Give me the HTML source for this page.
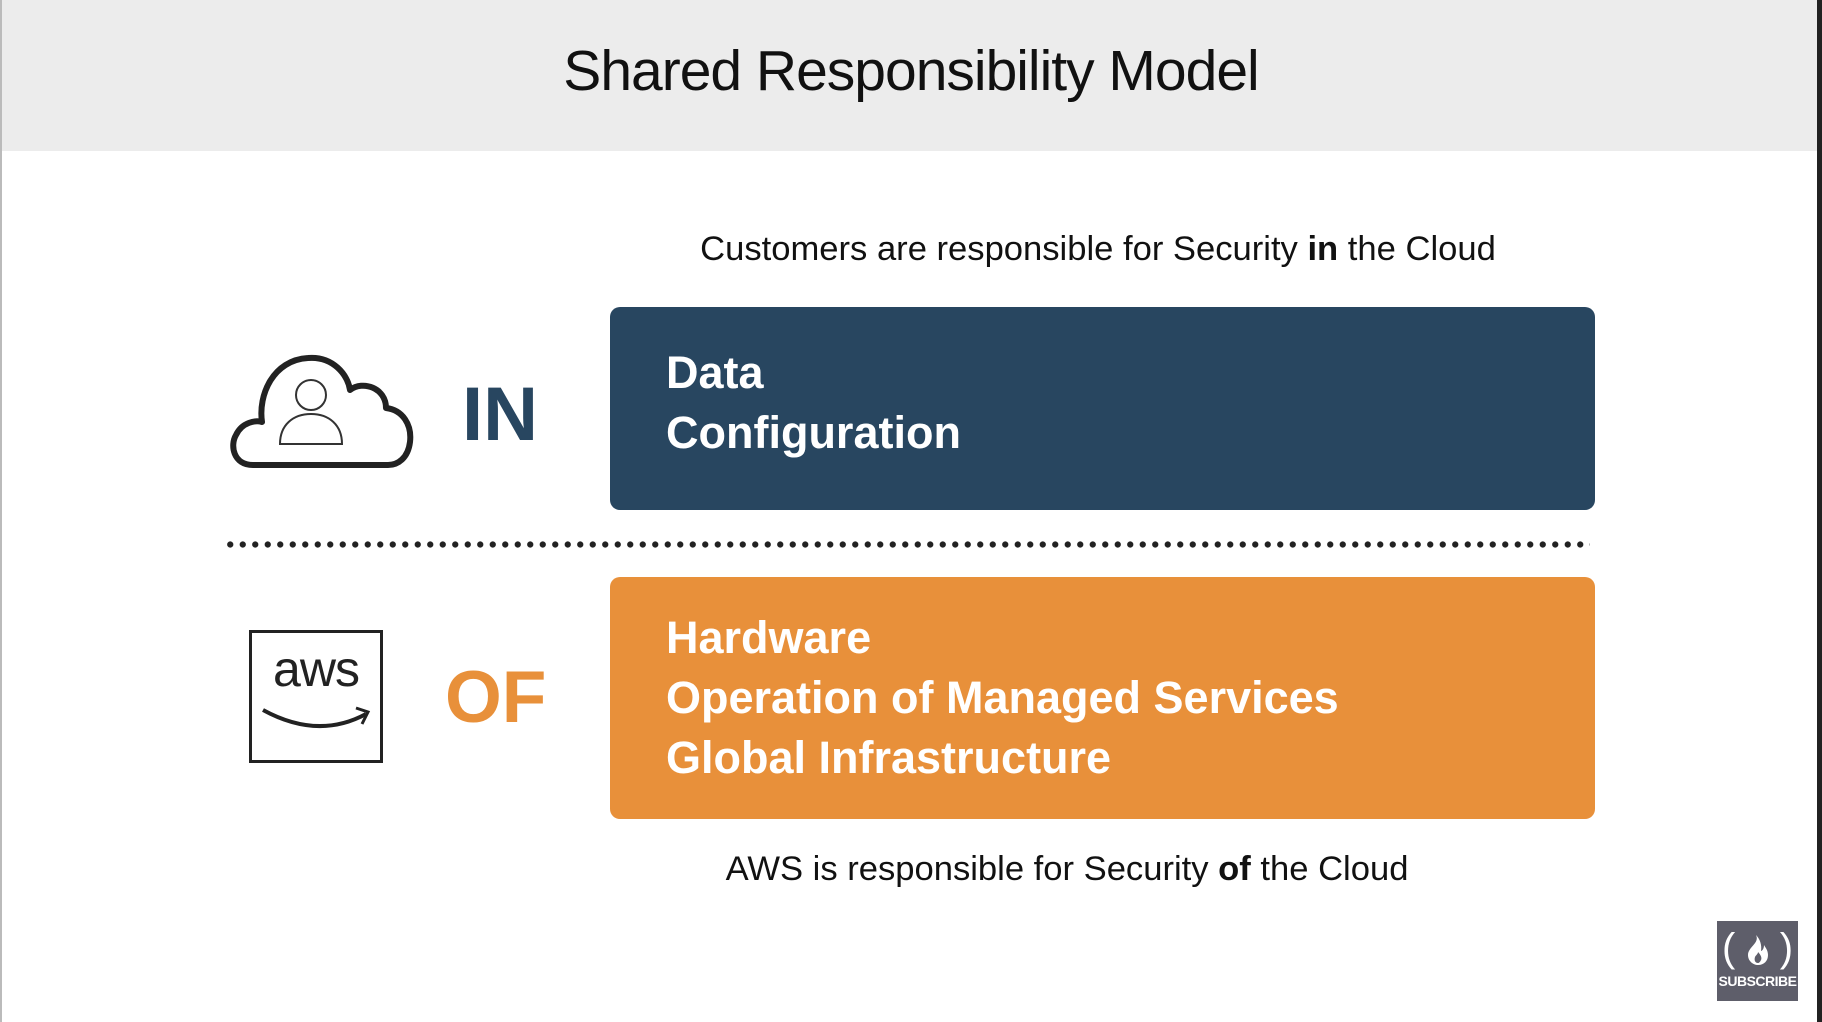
<!DOCTYPE html>
<html><head><meta charset="utf-8"><style>
body{margin:0;width:1822px;height:1022px;background:#fff;position:relative;overflow:hidden;font-family:"Liberation Sans",sans-serif}
.a{position:absolute}
.hdr{left:0;top:0;width:1822px;height:151px;background:#ececec}
.title{left:0;width:1822px;top:38px;text-align:center;font-size:57px;color:#111;font-family:"Comic Sans MS","Liberation Sans Narrow","Liberation Sans",sans-serif;letter-spacing:-1px}
.cap{font-size:34.6px;color:#111;text-align:center;white-space:nowrap}
.box{left:610px;width:985px;border-radius:10px}
.bt{color:#fff;font-weight:bold;font-size:45px;line-height:60px;position:absolute;left:56px}
</style></head><body>
<div class="a hdr"></div>
<div class="a" style="left:0;top:0;width:2px;height:1022px;background:#bbb"></div>
<div class="a" style="left:1817px;top:0;width:5px;height:1022px;background:#222"></div>
<div class="a title">Shared Responsibility Model</div>
<div class="a cap" style="left:598px;width:1000px;top:230px">Customers are responsible for Security <b>in</b> the Cloud</div>
<div class="a box" style="top:307px;height:203px;background:#284660"><div class="bt" style="top:36px">Data<br>Configuration</div></div>
<svg class="a" style="left:228px;top:350px" width="186" height="122" viewBox="0 0 186 122">
<path d="M25 115 C5 115 2 95 8 85 C14 72 28 70 34 72 C30 45 45 10 80 8 C105 6 120 25 122 40 C135 30 158 38 158 58 C175 60 184 75 182 92 C180 108 170 115 160 115 Z" fill="none" stroke="#222" stroke-width="6" stroke-linejoin="round"/>
<circle cx="83" cy="45" r="15" fill="none" stroke="#333" stroke-width="2"/>
<path d="M52 94 C52 75 65 64 83 64 C101 64 114 75 114 94 Z" fill="none" stroke="#333" stroke-width="2"/>
</svg>
<div class="a" style="left:462px;top:370px;font-size:76px;font-weight:bold;color:#284660;line-height:90px">IN</div>
<div class="a" style="left:224px;top:541px;width:1366px;height:7px;background:radial-gradient(circle,#222 2.8px,transparent 3.4px) 0 0/12.5px 7px repeat-x"></div>
<div class="a box" style="top:577px;height:242px;background:#e8903a"><div class="bt" style="top:31px">Hardware<br>Operation of Managed Services<br>Global Infrastructure</div></div>
<div class="a" style="left:249px;top:630px;width:128px;height:127px;border:3px solid #222"></div>
<div class="a" style="left:249px;top:640px;width:134px;text-align:center;font-size:50px;color:#222;letter-spacing:-1px">aws</div>
<svg class="a" style="left:258px;top:700px" width="120" height="36"><path d="M5 10 Q60 40 108 14" fill="none" stroke="#222" stroke-width="4"/><path d="M98 8 L110 12 L104 24" fill="none" stroke="#222" stroke-width="3"/></svg>
<div class="a" style="left:445px;top:653px;font-size:73px;font-weight:bold;color:#e8903a;line-height:90px">OF</div>
<div class="a cap" style="left:567px;width:1000px;top:850px">AWS is responsible for Security <b>of</b> the Cloud</div>
<div class="a" style="left:1717px;top:921px;width:81px;height:80px;background:#5e5e6a;color:#fff;text-align:center">
<div style="font-size:40px;line-height:50px;margin-top:2px;position:relative">(&nbsp;&nbsp;&nbsp;&nbsp;)
<svg style="position:absolute;left:29px;top:12px" width="24" height="30" viewBox="0 0 24 30"><path d="M10 0 C14 8 2 12 2 20 C2 26 7 30 12 30 C18 30 22 26 22 20 C22 15 19 12 18 10 C18 14 16 16 15 16 C16 10 14 4 10 0 Z M12 28 C9 28 8 25 9 22 C10 20 12 19 12 17 C15 20 16 23 15 25 C14 27 13 28 12 28 Z" fill="#fff" fill-rule="evenodd"/></svg></div>
<div style="font-size:14px;font-weight:bold;letter-spacing:-0.5px">SUBSCRIBE</div></div>
</body></html>
